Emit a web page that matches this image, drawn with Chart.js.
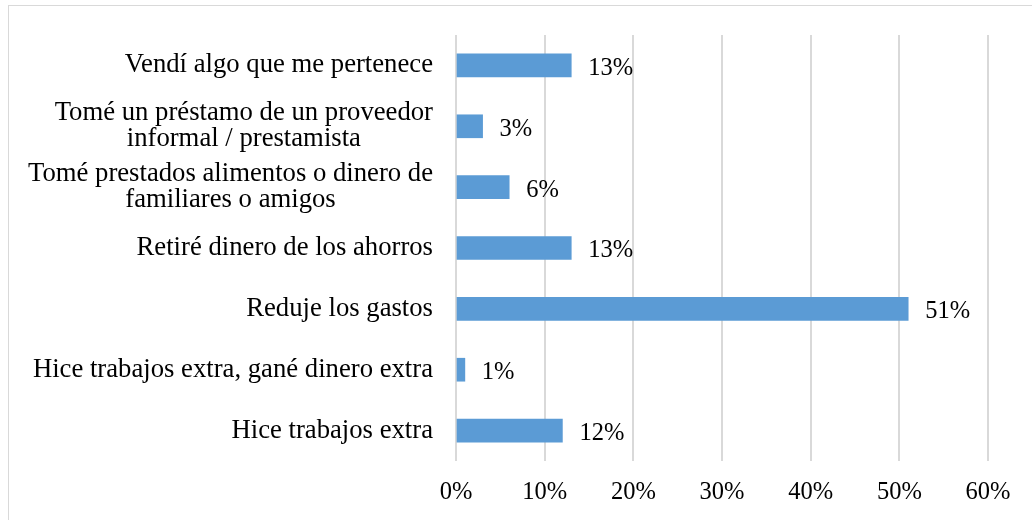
<!DOCTYPE html>
<html>
<head>
<meta charset="utf-8">
<script src="https://cdn.jsdelivr.net/npm/chart.js@4/dist/chart.umd.min.js"></script>
<style>
  html, body { margin: 0; padding: 0; background: #fff; }
  #wrap { position: relative; width: 1032px; height: 520px; }
  #frame { position: absolute; left: 8px; top: 5px; width: 1030px; height: 530px; border: 1px solid #d9d9d9; box-sizing: border-box; pointer-events: none; }
  canvas { position: absolute; left: 0; top: 0; }
</style>
</head>
<body>
<div id="wrap">
  <canvas id="c" width="1032" height="520"></canvas>
  <div id="frame"></div>
</div>
<script>
const categories = [
  "Vendí algo que me pertenece",
  ["Tomé un préstamo de un proveedor", "informal / prestamista"],
  ["Tomé prestados alimentos o dinero de", "familiares o amigos"],
  "Retiré dinero de los ahorros",
  "Reduje los gastos",
  "Hice trabajos extra, gané dinero extra",
  "Hice trabajos extra"
];
const values = [13, 3, 6, 13, 51, 1, 12];
const valueLabels = ["13%", "3%", "6%", "13%", "51%", "1%", "12%"];
const xTicks = [0, 10, 20, 30, 40, 50, 60];

const FONT = '"Liberation Serif", "Times New Roman", serif';

const labelPlugin = {
  id: 'labelPlugin',
  afterDatasetsDraw(chart) {
    const ctx = chart.ctx;
    const meta = chart.getDatasetMeta(0);
    const yScale = chart.scales.y;
    ctx.save();
    ctx.fillStyle = '#000';
    ctx.textBaseline = 'middle';
    // value labels
    ctx.font = '24.5px ' + FONT;
    ctx.textAlign = 'left';
    meta.data.forEach((bar, i) => {
      ctx.fillText(valueLabels[i], bar.x + 17, bar.y + 3);
    });
    // category labels (multi-line blocks centered, block right-aligned)
    ctx.font = '26.7px ' + FONT;
    const right = chart.chartArea.left - 23;
    const lh = 26;
    categories.forEach((lab, i) => {
      const y = yScale.getPixelForTick(i);
      const lines = Array.isArray(lab) ? lab : [lab];
      const widths = lines.map(l => ctx.measureText(l).width);
      const maxW = Math.max(...widths);
      const cx = right - maxW / 2;
      const y0 = y - (lines.length - 1) * lh / 2;
      ctx.textAlign = 'center';
      lines.forEach((l, k) => ctx.fillText(l, cx, y0 + k * lh));
    });
    ctx.restore();
  }
};

new Chart(document.getElementById('c'), {
  type: 'bar',
  data: {
    labels: categories,
    datasets: [{
      data: values,
      backgroundColor: '#5B9BD5',
      borderWidth: 0,
      barThickness: 23
    }]
  },
  options: {
    indexAxis: 'y',
    responsive: false,
    animation: false,
    layout: { padding: { top: 35, right: 44, left: 0, bottom: 0 } },
    plugins: { legend: { display: false }, tooltip: { enabled: false } },
    scales: {
      x: {
        min: 0, max: 60,
        afterBuildTicks(scale) { scale.ticks = xTicks.map(v => ({ value: v })); },
        afterFit(scale) { scale.height = 59; },
        grid: { color: '#d9d9d9', lineWidth: 2, drawTicks: false },
        border: { display: false },
        ticks: {
          padding: 17,
          color: '#000',
          font: { family: FONT, size: 24.5 },
          callback: v => v + '%'
        }
      },
      y: {
        afterFit(scale) { scale.width = 456; },
        grid: { display: false },
        border: { display: false },
        ticks: { display: false }
      }
    }
  },
  plugins: [labelPlugin]
});
</script>
</body>
</html>
